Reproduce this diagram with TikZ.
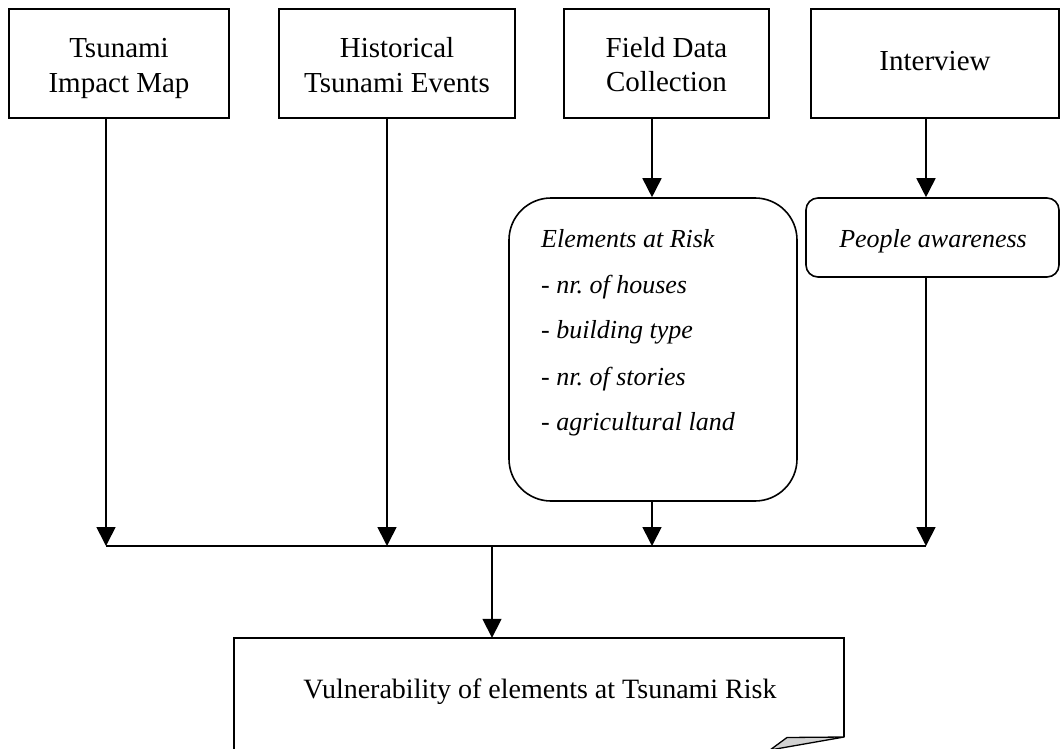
\documentclass[tikz,border=0pt]{standalone}
\usepackage{fontspec}
\setmainfont{Liberation Serif}
\usetikzlibrary{arrows.meta}
\frenchspacing
\begin{document}
\begin{tikzpicture}[x=1pt,y=-1pt,
  srcbox/.style={draw, line width=2pt, inner sep=0pt},
  roundbox/.style={draw, line width=1.6pt, inner sep=0pt},
  arr/.style={line width=1.7pt, -{Triangle[length=19pt,width=19pt]}},
  lbl/.style={font=\fontsize{29}{35}\selectfont, inner sep=0pt, anchor=base},
  ilbl/.style={font=\fontsize{26}{31}\selectfont\itshape, inner sep=0pt, anchor=base west}]
\useasboundingbox (0,0) rectangle (1060,749);
\clip (0,0) rectangle (1060,749);

% source boxes along the top
\node[srcbox, minimum width=220pt, minimum height=109pt] (b1) at (119,63.5) {};
\node[srcbox, minimum width=236pt, minimum height=109pt] (b2) at (397,63.5) {};
\node[srcbox, minimum width=205pt, minimum height=109pt] (b3) at (666.5,63.5) {};
\node[srcbox, minimum width=248pt, minimum height=109pt] (b4) at (935,63.5) {};

\node[lbl] (t1a) at (119,58) {Tsunami};
\node[lbl] (t1b) at (119,93) {Impact Map};
\node[lbl] (t2a) at (397,58) {Historical};
\node[lbl] (t2b) at (397,93) {Tsunami Events};
\node[lbl] (t3a) at (666.5,58) {Field Data};
\node[lbl] (t3b) at (666.5,92) {Collection};
\node[lbl] (t4a) at (935,71) {Interview};

% intermediate rounded boxes
\node[roundbox, rounded corners=42pt, minimum width=288pt, minimum height=303pt] (ear) at (653,349.5) {};
\node[ilbl] (e1) at (541,247) {Elements at Risk};
\node[ilbl] (e2) at (541,293) {\upshape -\itshape\ nr. of houses};
\node[ilbl] (e3) at (541,338) {\upshape -\itshape\ building type};
\node[ilbl] (e4) at (541,385) {\upshape -\itshape\ nr. of stories};
\node[ilbl] (e5) at (541,430) {\upshape -\itshape\ agricultural land};

\node[roundbox, rounded corners=12pt, minimum width=253pt, minimum height=79pt] (pa) at (932.5,237.5) {};
\node[ilbl, anchor=base] (pat) at (933,247) {People awareness};

% result box with a curled corner
\node[inner sep=0pt, minimum width=610pt, minimum height=140pt] (out) at (539,708) {};
\draw[line width=2pt] ([yshift=-30pt]out.south west) -- (out.north west) -- (out.north east) -- (out.north east |- 0,737);
\draw[line width=1.3pt, fill=gray!35, line join=round]
  (out.north east |- 0,737) -- (770,750) -- (787,737.5) .. controls (815,736.5) .. cycle;
\node[lbl, font=\fontsize{28}{34}\selectfont] (outt) at (540,698) {Vulnerability of elements at Tsunami Risk};

% collecting bus
\coordinate (m1) at (106,546);
\coordinate (m2) at (387,546);
\coordinate (m3) at (652,546);
\coordinate (m4) at (926,546);
\coordinate (j) at (492,546);
\draw[line width=2.2pt] (m1) -- (m4);

\draw[arr] (m1 |- b1.south) -- (m1);
\draw[arr] (m2 |- b2.south) -- (m2);
\draw[arr] (m3 |- b3.south) -- (m3 |- ear.north);
\draw[arr] (m3 |- ear.south) -- (m3);
\draw[arr] (m4 |- b4.south) -- (m4 |- pa.north);
\draw[arr] (m4 |- pa.south) -- (m4);
\draw[arr] (j) -- (j |- out.north);
\end{tikzpicture}
\end{document}
